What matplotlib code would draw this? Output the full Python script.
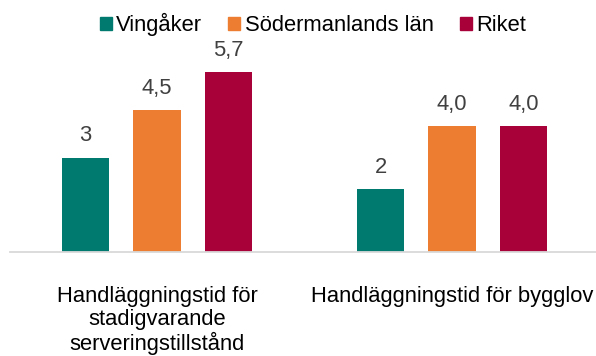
import numpy as np
import matplotlib.pyplot as plt
from matplotlib.patches import Patch

plt.rcParams['font.family'] = ['Liberation Sans', 'DejaVu Sans']

kategorier = ['Handläggningstid för\nstadigvarande\nserveringstillstånd',
              'Handläggningstid för bygglov']
serier = ['Vingåker', 'Södermanlands län', 'Riket']
vingaker = [3, 2]
sodermanland = [4.5, 4.0]
riket = [5.7, 4.0]
etiketter = [['3', '2'], ['4,5', '4,0'], ['5,7', '4,0']]

farger = ['#007a6e', '#ed7d31', '#a80038']
storlek = 15.8

fig = plt.figure(figsize=(5.96, 3.56), dpi=100)
ax = fig.add_axes([9.5 / 596, 104 / 356, 586.5 / 596, 189 / 356])

x = np.arange(len(kategorier))
bredd = 0.161
steg = 0.242
for i, (varden, farg) in enumerate(zip([vingaker, sodermanland, riket], farger)):
    staplar = ax.bar(x + (i - 1) * steg, varden, bredd, color=farg)
    for stapel, text in zip(staplar, etiketter[i]):
        ax.annotate(text, (stapel.get_x() + stapel.get_width() / 2, stapel.get_height()),
                    xytext=(0, 8), textcoords='offset points',
                    ha='center', va='bottom', fontsize=storlek, color='#404040')

ax.set_xlim(-0.5, -0.5 + 586.5 / 295)
ax.set_ylim(0, 6)
ax.set_yticks([])
ax.set_xticks(x)
ax.set_xticklabels(kategorier, fontsize=storlek, color='black', linespacing=1.1)
ax.tick_params(axis='x', length=0, pad=24.5)
for sida in ['top', 'right', 'left']:
    ax.spines[sida].set_visible(False)
ax.spines['bottom'].set_color('#d9d9d9')
ax.spines['bottom'].set_linewidth(1.3)

handtag = [Patch(color=f, label=s) for f, s in zip(farger, serier)]
fig.legend(handles=handtag, loc='upper center', bbox_to_anchor=(313 / 596, 1.0),
           ncol=3, frameon=False, fontsize=storlek, handlelength=0.55, handleheight=0.55,
           handletextpad=0.2, columnspacing=1.2, borderaxespad=0.2)

fig.savefig('out.png', dpi=100)
